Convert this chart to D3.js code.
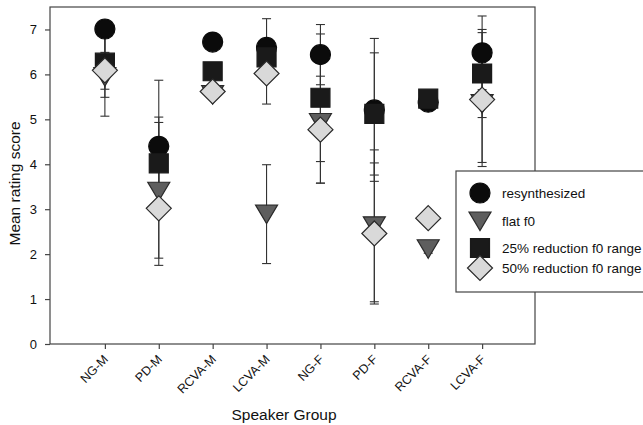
<!DOCTYPE html>
<html>
<head>
<meta charset="utf-8">
<script src="https://cdn.jsdelivr.net/npm/d3@7"></script>
<style>
  html, body { margin: 0; padding: 0; background: #fff; }
  svg { display: block; font-family: "Liberation Sans", Arial, sans-serif; }
</style>
</head>
<body>
<svg id="chart" width="643" height="425"></svg>
<script>
// ---------------- data ----------------
const groups = ["NG-M", "PD-M", "RCVA-M", "LCVA-M", "NG-F", "PD-F", "RCVA-F", "LCVA-F"];
const seriesNames = ["resynthesized", "flat f0", "25% reduction f0 range", "50% reduction f0 range"];

const resynthMean = [7.01, 4.40, 6.72, 6.60, 6.44, 5.21, 5.38, 6.48];
const resynthErr  = [0.52, 1.47, 0.10, 0.64, 0.67, 1.59, 0.10, 0.82];

const flatMean = [5.95, 3.40, 5.55, 2.89, 4.93, 2.63, 2.12, 5.35];
const flatErr  = [0.46, 1.65, 0.10, 1.10, 1.35, 1.69, 0.10, 1.31];

const red25Mean = [6.26, 4.02, 6.07, 6.38, 5.48, 5.12, 5.46, 6.02];
const red25Err  = [0.59, 0.91, 0.10, 0.15, 1.42, 1.36, 0.10, 0.98];

const red50Mean = [6.09, 3.02, 5.62, 6.02, 4.77, 2.46, 2.80, 5.44];
const red50Err  = [1.02, 1.11, 0.10, 0.68, 1.19, 1.57, 0.10, 1.49];

const yTicks = [0, 1, 2, 3, 4, 5, 6, 7];

// ---------------- layout ----------------
const svg = d3.select("#chart");
const pLeft = 50, pRight = 535, pTop = 7, pBottom = 344;

const x = d3.scalePoint().domain(groups).range([pLeft + 1, pRight + 1]).padding(1);
const y = d3.scaleLinear().domain([0, 7.5]).range([pBottom, pTop]);

const seriesDefs = [
  { name: seriesNames[0], mean: resynthMean, err: resynthErr, shape: "circle",   fill: "#0b0b0b", stroke: "#0b0b0b" },
  { name: seriesNames[1], mean: flatMean,    err: flatErr,    shape: "triangle", fill: "#5e5e5e", stroke: "#2a2a2a" },
  { name: seriesNames[2], mean: red25Mean,   err: red25Err,   shape: "square",   fill: "#1a1a1a", stroke: "#1a1a1a" },
  { name: seriesNames[3], mean: red50Mean,   err: red50Err,   shape: "diamond",  fill: "#d9d9d9", stroke: "#2a2a2a" }
];

function shapePath(shape) {
  switch (shape) {
    case "circle":   return "M10,0A10,10 0 1,1 -10,0A10,10 0 1,1 10,0Z";
    case "triangle": return "M-11,-9L11,-9L0,9.5Z";
    case "square":   return "M-9.5,-9.5L9.5,-9.5L9.5,9.5L-9.5,9.5Z";
    case "diamond":  return "M0,-12.5L12.5,0L0,12.5L-12.5,0Z";
  }
}

// ---------------- axes ----------------
const yAxis = d3.axisLeft(y).tickValues(yTicks).tickSize(5).tickPadding(8).tickFormat(d3.format("d"));
const gy = svg.append("g").attr("transform", `translate(${pLeft},0)`).call(yAxis);
gy.select(".domain").remove();
gy.selectAll(".tick line").attr("stroke", "#444").attr("stroke-width", 1.2);
gy.selectAll(".tick text").attr("font-size", 13).attr("fill", "#111")
  .attr("font-family", "Liberation Sans, Arial, sans-serif");

const xAxis = d3.axisBottom(x).tickSize(5).tickFormat("");
const gx = svg.append("g").attr("transform", `translate(0,${pBottom})`).call(xAxis);
gx.select(".domain").remove();
gx.selectAll(".tick line").attr("stroke", "#444").attr("stroke-width", 1.2);

svg.append("g").selectAll("text").data(groups).join("text")
  .attr("transform", d => `translate(${x(d) + 1},${pBottom + 13}) rotate(-45)`)
  .attr("text-anchor", "end")
  .attr("dy", "0.35em")
  .attr("font-size", 12.5)
  .attr("fill", "#111")
  .text(d => d);

// frame
const frame = svg.append("g").attr("stroke", "#444").attr("stroke-width", 1.2).attr("fill", "none");
frame.append("rect").attr("x", pLeft).attr("y", pTop).attr("width", pRight - pLeft).attr("height", pBottom - pTop);

// axis titles
svg.append("text")
  .attr("transform", `translate(20,${(pTop + pBottom) / 2 + 8}) rotate(-90)`)
  .attr("text-anchor", "middle")
  .attr("font-size", 15.5)
  .attr("fill", "#111")
  .text("Mean rating score");

svg.append("text")
  .attr("x", 284).attr("y", 420)
  .attr("text-anchor", "middle")
  .attr("font-size", 15.5)
  .attr("fill", "#111")
  .text("Speaker Group");

// ---------------- error bars ----------------
const ymax = y.domain()[1];
const eb = svg.append("g").attr("stroke", "#333").attr("stroke-width", 1.1);
seriesDefs.forEach(s => {
  groups.forEach((g, i) => {
    const cx = x(g), m = s.mean[i], e = s.err[i];
    const lo = m - e, hi = m + e;
    eb.append("line").attr("x1", cx).attr("x2", cx).attr("y1", y(m)).attr("y2", y(lo));
    eb.append("line").attr("x1", cx - 4.5).attr("x2", cx + 4.5).attr("y1", y(lo)).attr("y2", y(lo));
    if (hi <= ymax) {
      eb.append("line").attr("x1", cx).attr("x2", cx).attr("y1", y(m)).attr("y2", y(hi));
      eb.append("line").attr("x1", cx - 4.5).attr("x2", cx + 4.5).attr("y1", y(hi)).attr("y2", y(hi));
    }
  });
});

// ---------------- markers ----------------
const drawOrder = [0, 1, 2, 3];
drawOrder.forEach(k => {
  const s = seriesDefs[k];
  svg.append("g").selectAll("path").data(groups).join("path")
    .attr("d", shapePath(s.shape))
    .attr("transform", (g, i) => `translate(${x(g)},${y(s.mean[i])})`)
    .attr("fill", s.fill)
    .attr("stroke", s.stroke)
    .attr("stroke-width", 1.2);
});

// ---------------- legend ----------------
const lg = svg.append("g");
lg.append("rect").attr("x", 456).attr("y", 171).attr("width", 220).attr("height", 121)
  .attr("fill", "#fff").attr("stroke", "#444").attr("stroke-width", 1.2);
const legendY = [193, 221, 248, 268];
seriesDefs.forEach((s, k) => {
  lg.append("path").attr("d", shapePath(s.shape))
    .attr("transform", `translate(480,${legendY[k]})`)
    .attr("fill", s.fill).attr("stroke", s.stroke).attr("stroke-width", 1.2);
  lg.append("text").attr("x", 502).attr("y", legendY[k]).attr("dy", "0.35em")
    .attr("font-size", 13.5).attr("fill", "#111").text(s.name);
});
</script>
</body>
</html>
